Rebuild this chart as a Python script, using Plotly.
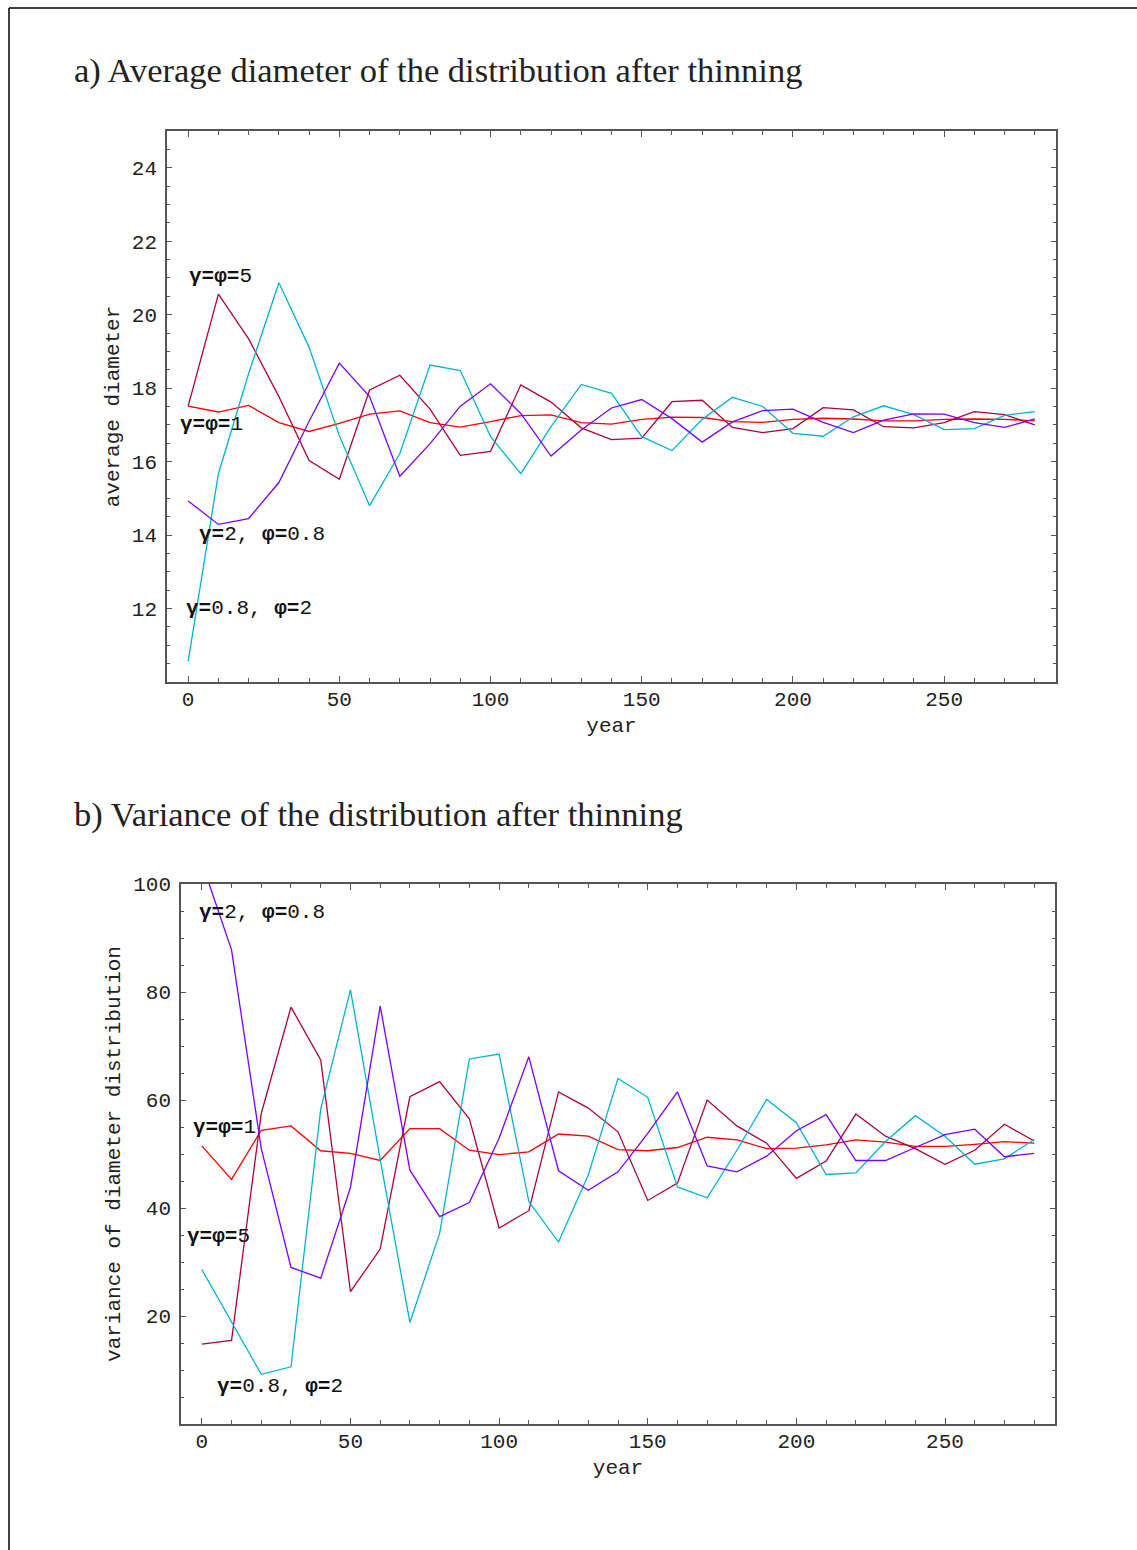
import plotly.graph_objects as go

W, H = 1137, 1550

years = [0, 10, 20, 30, 40, 50, 60, 70, 80, 90, 100, 110, 120, 130, 140,
         150, 160, 170, 180, 190, 200, 210, 220, 230, 240, 250, 260, 270, 280]

# a) average diameter
red_a = [17.51, 17.35, 17.53, 17.06, 16.82, 17.04, 17.29, 17.38, 17.06, 16.94, 17.09, 17.25, 17.27, 17.06, 17.02,
         17.15, 17.21, 17.20, 17.09, 17.07, 17.15, 17.18, 17.16, 17.11, 17.11, 17.15, 17.16, 17.15, 17.11]
crimson_a = [17.51, 20.56, 19.34, 17.77, 16.03, 15.52, 17.95, 18.35, 17.43, 16.17, 16.28, 18.09, 17.62, 16.92, 16.60,
             16.64, 17.63, 17.67, 16.93, 16.79, 16.90, 17.47, 17.41, 16.95, 16.92, 17.06, 17.36, 17.28, 17.00]
cyan_a = [10.56, 15.67, 18.40, 20.87, 19.11, 16.70, 14.80, 16.22, 18.63, 18.48, 16.68, 15.67, 16.95, 18.10, 17.86,
          16.68, 16.30, 17.15, 17.75, 17.50, 16.77, 16.69, 17.22, 17.52, 17.28, 16.87, 16.90, 17.26, 17.36]
purple_a = [14.93, 14.29, 14.45, 15.43, 17.10, 18.68, 17.77, 15.60, 16.49, 17.51, 18.12, 17.31, 16.15, 16.86, 17.46,
            17.69, 17.17, 16.53, 17.08, 17.39, 17.43, 17.07, 16.79, 17.13, 17.30, 17.29, 17.06, 16.93, 17.16]

# b) variance
red_b = [51.5, 45.3, 54.4, 55.2, 50.6, 50.1, 48.8, 54.7, 54.7, 50.7, 49.9, 50.4, 53.7, 53.3, 50.8,
         50.6, 51.2, 53.1, 52.6, 51.0, 51.1, 51.7, 52.6, 52.2, 51.4, 51.4, 51.8, 52.3, 52.0]
crimson_b = [14.8, 15.5, 57.5, 77.2, 67.4, 24.5, 32.4, 60.6, 63.4, 56.5, 36.3, 39.5, 61.5, 58.5, 54.1,
             41.4, 44.6, 60.0, 55.2, 52.0, 45.5, 48.7, 57.4, 53.3, 51.0, 48.1, 50.7, 55.5, 52.4]
cyan_b = [28.6, 19.0, 9.2, 10.6, 58.3, 80.4, 49.0, 18.8, 35.3, 67.6, 68.5, 41.2, 33.7, 46.1, 64.0,
          60.5, 43.9, 41.9, 50.7, 60.1, 55.8, 46.2, 46.5, 52.3, 57.1, 53.3, 48.1, 49.1, 52.7]
purple_b = [104.0, 87.8, 51.0, 29.0, 27.0, 43.8, 77.4, 47.0, 38.4, 41.0, 52.9, 68.0, 46.9, 43.3, 46.7,
            53.8, 61.5, 47.8, 46.7, 49.6, 54.3, 57.3, 48.8, 48.8, 51.2, 53.6, 54.6, 49.5, 50.1]

labels_a = ["<b>γ=φ=</b>5", "<b>γ=φ=</b>1", "<b>γ=</b>2, <b>φ=</b>0.8", "<b>γ=</b>0.8, <b>φ=</b>2"]
labels_b = ["<b>γ=</b>2, <b>φ=</b>0.8", "<b>γ=φ=</b>1", "<b>γ=φ=</b>5", "<b>γ=</b>0.8, <b>φ=</b>2"]
title_a = "a) Average diameter of the distribution after thinning"
title_b = "b) Variance of the distribution after thinning"

C_RED = "#ff0000"
C_CRIMSON = "#b0003c"
C_CYAN = "#00b4d2"
C_PURPLE = "#7a00ff"

MONO = "Liberation Mono, Courier New, monospace"
SERIF = "Liberation Serif, DejaVu Serif, serif"

fig = go.Figure()
series_a = [(red_a, C_RED), (crimson_a, C_CRIMSON), (cyan_a, C_CYAN), (purple_a, C_PURPLE)]
series_b = [(red_b, C_RED), (crimson_b, C_CRIMSON), (cyan_b, C_CYAN), (purple_b, C_PURPLE)]
for vals, col in series_a:
    fig.add_trace(go.Scatter(x=years, y=vals, mode="lines", line=dict(color=col, width=1.3),
                             xaxis="x", yaxis="y", showlegend=False))
for vals, col in series_b:
    fig.add_trace(go.Scatter(x=years, y=vals, mode="lines", line=dict(color=col, width=1.3),
                             xaxis="x2", yaxis="y2", showlegend=False))

def px_x(p):
    return p / W

def px_y(p):
    return 1 - p / H

FS = 21
axis_common = dict(showgrid=False, zeroline=False, showline=True, linecolor="#555555", linewidth=1.5,
                   mirror="allticks", ticks="inside", tickcolor="#555555", tickwidth=1.2,
                   tickfont=dict(family=MONO, size=FS, color="#222222"),
                   title_font=dict(family=MONO, size=FS, color="#222222"))

fig.update_layout(
    width=W, height=H, margin=dict(l=0, r=0, t=0, b=0, pad=0, autoexpand=False),
    paper_bgcolor="white", plot_bgcolor="white",
    xaxis=dict(domain=[px_x(167), px_x(1056)], anchor="y", range=[-7, 287],
               tickvals=[0, 50, 100, 150, 200, 250], ticklen=6, ticklabelstandoff=-3,
               minor=dict(dtick=10, tick0=0, ticks="inside", ticklen=4, tickcolor="#555555", tickwidth=1.2),
               title=dict(text="year", standoff=6), **axis_common),
    yaxis=dict(domain=[px_y(682), px_y(131)], anchor="x", range=[10, 25],
               tickvals=[12, 14, 16, 18, 20, 22, 24], ticklen=5, ticklabelstandoff=4,
               minor=dict(dtick=0.5, tick0=0, ticks="inside", ticklen=3.5, tickcolor="#555555", tickwidth=1.2),
               title=dict(text="average diameter", standoff=6), **axis_common),
    xaxis2=dict(domain=[px_x(181), px_x(1055)], anchor="y2", range=[-7, 287],
                tickvals=[0, 50, 100, 150, 200, 250], ticklen=6, ticklabelstandoff=-3,
                minor=dict(dtick=10, tick0=0, ticks="inside", ticklen=4, tickcolor="#555555", tickwidth=1.2),
                title=dict(text="year", standoff=6), **axis_common),
    yaxis2=dict(domain=[px_y(1424), px_y(884)], anchor="x2", range=[0, 100],
                tickvals=[20, 40, 60, 80, 100], ticklen=5, ticklabelstandoff=4,
                minor=dict(dtick=5, tick0=0, ticks="inside", ticklen=3.5, tickcolor="#555555", tickwidth=1.2),
                title=dict(text="variance of diameter distribution", standoff=7), **axis_common),
)

ann_font = dict(family=MONO, size=FS, color="#111111")
pos_a = [(-0.3, 21.03), (-3.3, 17.0), (3.0, 14.02), (-1.3, 12.0)]
for (x, y), t in zip(pos_a, labels_a):
    fig.add_annotation(x=x, y=y, xref="x", yref="y", text=t, showarrow=False,
                       xanchor="left", yanchor="middle", font=ann_font)
pos_b = [(-1.7, 94.8), (-3.7, 55.0), (-5.7, 34.8), (4.4, 7.0)]
for (x, y), t in zip(pos_b, labels_b):
    fig.add_annotation(x=x, y=y, xref="x2", yref="y2", text=t, showarrow=False,
                       xanchor="left", yanchor="middle", font=ann_font)

title_font = dict(family=SERIF, size=34.5, color="#222222")
fig.add_annotation(x=px_x(72), y=px_y(71), xref="paper", yref="paper", text=title_a, showarrow=False,
                   xanchor="left", yanchor="middle", font=title_font)
fig.add_annotation(x=px_x(72), y=px_y(814), xref="paper", yref="paper", text=title_b, showarrow=False,
                   xanchor="left", yanchor="middle", font=title_font)

# outer frame
fig.add_shape(type="line", xref="paper", yref="paper", x0=px_x(9), x1=1, y0=px_y(8), y1=px_y(8),
              line=dict(color="black", width=1.5))
fig.add_shape(type="line", xref="paper", yref="paper", x0=px_x(9), x1=px_x(9), y0=px_y(8), y1=0,
              line=dict(color="black", width=1.5))

fig.write_html("out.html")
